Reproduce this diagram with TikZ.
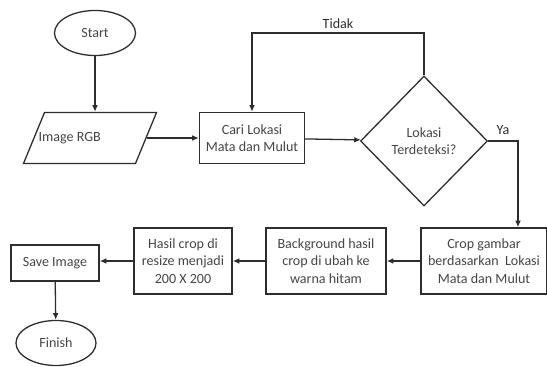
\documentclass[tikz,border=0pt]{standalone}
\usepackage{fontspec}
\setmainfont{Carlito}
\definecolor{lineclr}{RGB}{45, 45, 45}
\definecolor{textclr}{RGB}{70, 70, 70}
\usetikzlibrary{shapes.geometric, arrows.meta, positioning, calc}

\begin{document}
\begin{tikzpicture}[
        x=0.03cm, y=-0.03cm,
        font=\fontsize{12}{15}\selectfont, text=textclr,
        box/.style={draw=lineclr, line width=1.1pt, align=center, inner sep=2pt},
        term/.style={draw=lineclr, line width=1.1pt, ellipse, inner sep=0pt},
        arrow/.style={-{Latex[length=2mm, width=1.7mm]}, line width=1.1pt, lineclr}
    ]
        \useasboundingbox (0,0) rectangle (547,367);

        % Top row: start, input, search, decision
        \node[term, minimum width=2.43cm, minimum height=1.35cm] (start) at (95,33) {Start};

        \node[box, trapezium, trapezium left angle=77, trapezium right angle=103, trapezium stretches=true,
              minimum width=3.99cm, minimum height=1.53cm,
              label={[anchor=west, xshift=1pt, text=textclr]west:Image RGB}] (img) at (90,138) {};

        \node[box, minimum width=3.15cm, minimum height=1.53cm] (cari) at (252,138) {Cari Lokasi\\Mata dan Mulut};

        \node[box, diamond, inner sep=0pt, minimum width=3.81cm, minimum height=3.9cm] (dec) at (424,141) {Lokasi\\Terdeteksi?};

        % Bottom row: from right to left
        \node[box, minimum width=3.78cm, minimum height=1.98cm] (crop) at (484,261) {Crop gambar\\berdasarkan\ \ Lokasi\\Mata dan Mulut};

        \node[box, minimum width=3.6cm, minimum height=1.98cm] (bg) at (326,261) {Background hasil\\crop di ubah ke\\warna hitam};

        \node[box, minimum width=2.94cm, minimum height=1.98cm] (resize) at (183,261) {Hasil crop di\\resize menjadi\\200 X 200};

        \node[box, minimum width=2.64cm, minimum height=1.08cm] (save) at (55,263) {Save Image};

        \node[term, minimum width=2.4cm, minimum height=1.35cm] (finish) at (56,343) {Finish};

        % Turning points of the loops
        \coordinate (tidakturn) at (424,33);
        \coordinate (yaturn) at (518,141);

        % Connectors
        \draw[arrow] (start) -- (start |- img.north);
        \draw[arrow] (img.east |- cari) -- (cari);
        \draw[arrow] (cari) -- (dec);
        \draw[arrow] (dec.north) -- (tidakturn) -| node[pos=0.25, above] {Tidak} (cari.north);
        \draw[arrow] (dec.east) -- (yaturn) node[above, pos=0.5, yshift=2pt] {Ya} -- (yaturn |- crop.north);
        \draw[arrow] (crop) -- (bg);
        \draw[arrow] (bg) -- (resize);
        \draw[arrow] (resize) -- (resize -| save.east);
        \draw[arrow] (save) -- (finish);
    \end{tikzpicture}
\end{document}
